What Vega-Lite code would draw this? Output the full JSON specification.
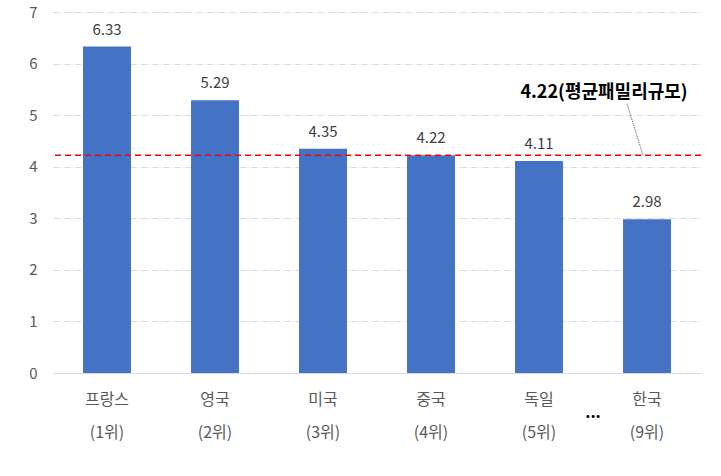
{
  "$schema": "https://vega.github.io/schema/vega-lite/v6.json",
  "autosize": "none",
  "width": 648,
  "height": 361,
  "padding": {"left": 53, "top": 12, "right": 20, "bottom": 103},
  "background": "white",
  "config": {
    "font": "Noto Sans CJK KR",
    "view": {"stroke": null}
  },
  "data": {
    "values": [
      {"label": "프랑스\n(1위)", "size": 6.33},
      {"label": "영국\n(2위)", "size": 5.29},
      {"label": "미국\n(3위)", "size": 4.35},
      {"label": "중국\n(4위)", "size": 4.22},
      {"label": "독일\n(5위)", "size": 4.11},
      {"label": "한국\n(9위)", "size": 2.98}
    ]
  },
  "encoding": {
    "x": {
      "field": "label",
      "type": "nominal",
      "sort": null,
      "scale": {"paddingInner": 0.556, "paddingOuter": 0.278},
      "axis": {
        "title": null,
        "labelAngle": 0,
        "labelExpr": "split(datum.label, '\\n')",
        "labelFontSize": 16,
        "labelColor": "#595959",
        "labelLineHeight": 33,
        "labelPadding": 18,
        "labelBaseline": "top",
        "ticks": false,
        "domain": true,
        "domainColor": "#D9D9D9",
        "domainWidth": 1
      }
    }
  },
  "layer": [
    {
      "mark": {"type": "bar", "color": "#4472C4"},
      "encoding": {
        "y": {
          "field": "size",
          "type": "quantitative",
          "scale": {"domain": [0, 7], "nice": false},
          "axis": {
            "title": null,
            "values": [0, 1, 2, 3, 4, 5, 6, 7],
            "format": "d",
            "labelFontSize": 15,
            "labelColor": "#595959",
            "labelPadding": 16,
            "ticks": false,
            "domain": false,
            "grid": true,
            "gridColor": "#D9D9D9",
            "gridDash": [6, 2, 1, 2],
            "gridWidth": 1
          }
        }
      }
    },
    {
      "mark": {"type": "text", "dy": -17, "fontSize": 15, "color": "#404040"},
      "encoding": {
        "y": {"field": "size", "type": "quantitative"},
        "text": {"field": "size", "type": "quantitative", "format": ".2f"}
      }
    },
    {
      "data": {"values": [{"avg": 4.22}]},
      "mark": {"type": "rule", "stroke": "#FF0000", "color": "#FF0000", "opacity": 1, "strokeOpacity": 1, "strokeDash": [6, 4], "strokeWidth": 1.5},
      "encoding": {
        "x": null,
        "y": {"field": "avg", "type": "quantitative"}
      }
    },
    {
      "data": {"values": [{"label": "한국\n(9위)", "ytop": 5.22, "avg": 4.22}]},
      "mark": {"type": "rule", "color": "#595959", "strokeDash": [1, 1], "strokeWidth": 1, "xOffset": -20, "x2Offset": -4},
      "encoding": {
        "x": {"field": "label", "type": "nominal", "sort": null},
        "x2": {"field": "label"},
        "y": {"field": "ytop", "type": "quantitative"},
        "y2": {"field": "avg"}
      }
    },
    {
      "data": {"values": [{"label": "한국\n(9위)", "ypos": 5.43, "note": "4.22(평균패밀리규모)"}]},
      "mark": {"type": "text", "fontSize": 18, "fontWeight": "bold", "color": "#000000", "dx": -43},
      "encoding": {
        "x": {"field": "label", "type": "nominal", "sort": null},
        "y": {"field": "ypos", "type": "quantitative"},
        "text": {"field": "note"}
      }
    },
    {
      "data": {"values": [{"label": "독일\n(5위)", "ypos": 0, "note": "..."}]},
      "mark": {"type": "text", "fontSize": 16, "fontWeight": "bold", "color": "#000000", "dx": 54, "dy": 40},
      "encoding": {
        "x": {"field": "label", "type": "nominal", "sort": null},
        "y": {"field": "ypos", "type": "quantitative"},
        "text": {"field": "note"}
      }
    }
  ]
}
